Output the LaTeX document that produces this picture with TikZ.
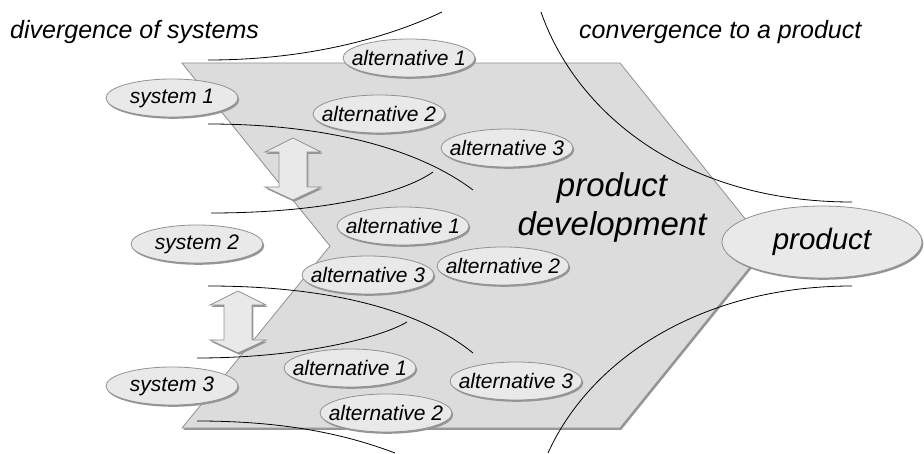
\documentclass[tikz,border=0pt]{standalone}
\usepackage{fontspec}
\setmainfont{Liberation Sans}
\usetikzlibrary{shapes.geometric,shadows}
\definecolor{polyfill}{RGB}{220,220,220}
\definecolor{ellfill}{RGB}{233,233,233}
\definecolor{edgegray}{RGB}{145,145,145}
\definecolor{shadowgray}{RGB}{150,150,150}
\begin{document}
\begin{tikzpicture}[x=1pt,y=-1pt,
  oval/.style={ellipse, draw=edgegray, fill=ellfill, line width=0.8pt,
    inner xsep=-12pt, inner ysep=-5pt,
    minimum width=132pt, minimum height=38pt,
    font=\fontsize{21}{23}\selectfont\itshape,
    drop shadow={shadow xshift=1.3pt, shadow yshift=-1.8pt, fill=shadowgray, opacity=1}},
  bigoval/.style={oval, minimum width=200pt, minimum height=72pt, font=\fontsize{29.5}{32}\selectfont\itshape},
  plate/.style={draw=edgegray, fill=polyfill, line width=0.8pt,
    drop shadow={shadow xshift=1.3pt, shadow yshift=-1.8pt, fill=shadowgray, opacity=1}},
  dblarrow/.style={draw=edgegray, fill=ellfill, line width=0.8pt,
    drop shadow={shadow xshift=1.3pt, shadow yshift=-1.8pt, fill=shadowgray, opacity=1}},
  curve/.style={draw=black, line width=0.8pt},
  title/.style={font=\fontsize{25}{27}\selectfont\itshape, inner sep=0pt},
  bigtext/.style={font=\fontsize{33}{39}\selectfont\itshape, align=center, inner sep=0pt}]
\useasboundingbox (0,0) rectangle (924,454);

% plate
\path[plate] (182,63) -- (620,63) -- (767,246) -- (620,428) -- (182,428) -- (330,246) -- cycle;

% titles
\node[title, anchor=west] (t1) at (10,32) {divergence of systems};
\node[title, anchor=west] (t2) at (579,32) {convergence to a product};

% big text
\node[bigtext] (pd) at (612,207) {product\\development};

% curves
\draw[curve] (208,60) .. controls (320,60) and (400,32) .. (442,12);
\draw[curve] (208,124) .. controls (330,124) and (420,150) .. (473,190);
\draw[curve] (211,213) .. controls (320,213) and (400,195) .. (433,172);
\draw[curve] (208,286) .. controls (330,286) and (420,310) .. (473,353);
\draw[curve] (197,358) .. controls (300,358) and (380,338) .. (407,322);
\draw[curve] (197,421) .. controls (290,421) and (350,436) .. (395,453);
\draw[curve] (541,12) .. controls (575,110) and (680,202) .. (852,202);
\draw[curve] (852,286) .. controls (700,286) and (590,360) .. (548,453);

% double arrows
\path[dblarrow] (293,138) -- (321,152) -- (307,152) -- (307,187) -- (321,187) -- (293,200)
  -- (265,187) -- (279,187) -- (279,152) -- (265,152) -- cycle;
\path[dblarrow] (238,291) -- (266,305) -- (252,305) -- (252,340) -- (266,340) -- (238,353)
  -- (210,340) -- (224,340) -- (224,305) -- (210,305) -- cycle;

% systems
\node[oval] (s1) at (172,98) {system 1};
\node[oval] (s2) at (197,244) {system 2};
\node[oval] (s3) at (172,386) {system 3};

% alternatives group 1
\node[oval] (a11) at (409,58) {alternative 1};
\node[oval] (a12) at (379,114) {alternative 2};
\node[oval] (a13) at (507,148) {alternative 3};

% alternatives group 2
\node[oval] (a21) at (403,226) {alternative 1};
\node[oval] (a22) at (503,266) {alternative 2};
\node[oval] (a23) at (368,275) {alternative 3};

% alternatives group 3
\node[oval] (a31) at (350,368) {alternative 1};
\node[oval] (a32) at (386,413) {alternative 2};
\node[oval] (a33) at (516,381) {alternative 3};

% product
\node[bigoval] (prod) at (822,242) {product};
\end{tikzpicture}
\end{document}
